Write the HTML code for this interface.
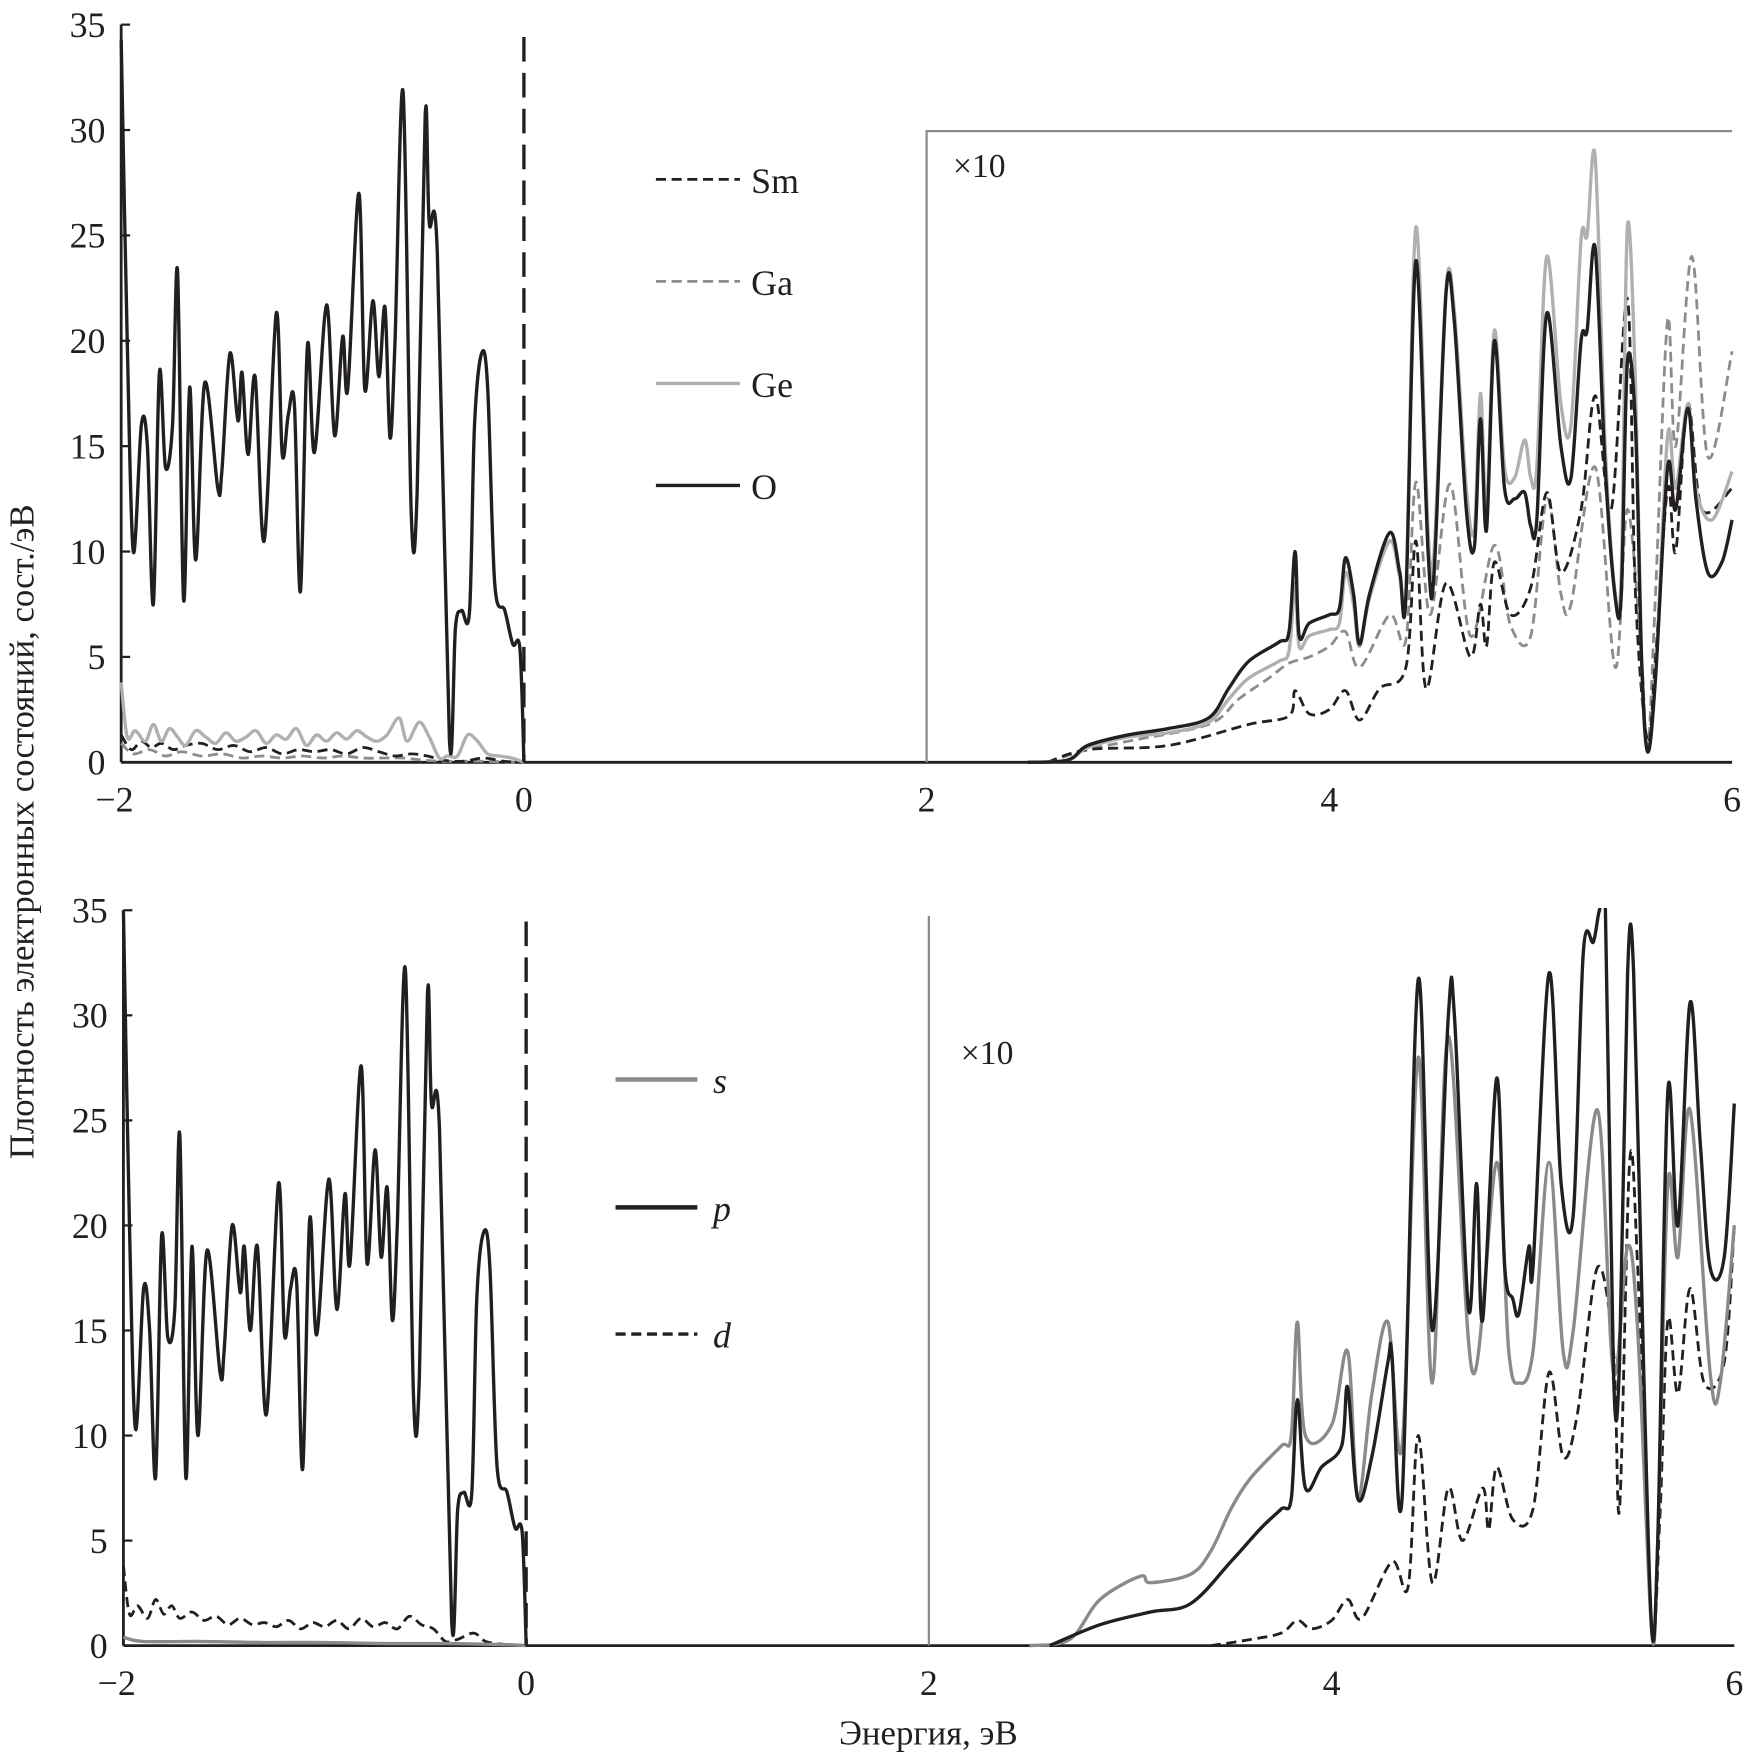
<!DOCTYPE html>
<html><head><meta charset="utf-8"><style>
html,body{margin:0;padding:0;background:#fff}
svg{display:block}
text{font-family:"Liberation Serif",serif;fill:#231f20}
</style></head><body>
<svg id="chart" width="1749" height="1760" viewBox="0 0 1560 1570" xmlns="http://www.w3.org/2000/svg">
<defs>
<clipPath id="clipTop"><rect x="100" y="20" width="1460" height="665"/></clipPath>
<clipPath id="clipBot"><rect x="100" y="810" width="1460" height="663"/></clipPath>
</defs>
<g id="top"></g>
<g id="bot"></g>
<text x="0" y="0" font-size="31" text-anchor="middle" transform="translate(30,742) rotate(-90)">Плотность электронных состояний, сост./эВ</text>
<text x="828" y="1556" font-size="31" text-anchor="middle">Энергия, эВ</text>
</svg>
<script>
// ---- data: top panel ----
const xTicks=[-2,0,2,4,6];
const yTicks=[0,5,10,15,20,25,30,35];
const oLeftE=[-2,-1.97,-1.94,-1.9,-1.87,-1.84,-1.81,-1.78,-1.745,-1.72,-1.69,-1.66,-1.63,-1.585,-1.52,-1.5,-1.46,-1.42,-1.4,-1.37,-1.335,-1.29,-1.23,-1.2,-1.17,-1.14,-1.11,-1.075,-1.04,-0.98,-0.94,-0.9,-0.875,-0.82,-0.79,-0.75,-0.72,-0.69,-0.665,-0.64,-0.6,-0.56,-0.53,-0.49,-0.47,-0.43,-0.37,-0.34,-0.31,-0.27,-0.245,-0.21,-0.18,-0.145,-0.095,-0.055,-0.02,0];
const oLeftV=[34.3,20,10,16,15,7.5,18.5,14,16,23.3,7.7,17.8,9.6,18,13,13.8,19.4,16.2,18.5,14.6,18.3,10.5,21.3,14.6,16.5,17,8.1,19.8,14.7,21.7,15.5,20.2,17.7,27,17.7,21.9,18.3,21.6,15.4,20,31.8,11.9,12.8,30.7,25.6,24.2,1.1,6.4,7.2,7.2,16,19.4,17.8,8.5,7.2,5.6,5.4,0];
const geLeftE=[-2,-1.97,-1.93,-1.88,-1.84,-1.8,-1.76,-1.72,-1.68,-1.63,-1.58,-1.53,-1.48,-1.43,-1.38,-1.33,-1.28,-1.23,-1.18,-1.13,-1.08,-1.03,-0.98,-0.93,-0.88,-0.83,-0.78,-0.73,-0.68,-0.62,-0.58,-0.52,-0.47,-0.42,-0.38,-0.33,-0.28,-0.23,-0.18,-0.12,-0.06,0];
const geLeftV=[3.8,1.2,1.5,1.0,1.8,1.0,1.6,1.2,0.8,1.5,1.2,0.9,1.4,1.0,1.2,1.5,0.9,1.3,1.1,1.6,0.8,1.3,1.0,1.4,1.1,1.5,1.2,1.0,1.3,2.1,1.0,1.9,1.2,0.2,0.3,0.3,1.3,1.0,0.4,0.3,0.2,0];
const smLeftE=[-2,-1.95,-1.9,-1.85,-1.8,-1.74,-1.68,-1.6,-1.52,-1.44,-1.36,-1.28,-1.2,-1.12,-1.04,-0.96,-0.88,-0.8,-0.72,-0.64,-0.56,-0.48,-0.4,-0.3,-0.2,-0.1,0];
const smLeftV=[1.3,0.6,1.0,0.7,0.9,0.6,0.8,0.9,0.6,0.8,0.5,0.7,0.4,0.6,0.5,0.6,0.4,0.7,0.5,0.3,0.4,0.3,0.1,0.05,0.2,0.05,0];
const gaLeftE=[-2,-1.94,-1.86,-1.78,-1.7,-1.6,-1.5,-1.4,-1.3,-1.2,-1.1,-1.0,-0.9,-0.8,-0.7,-0.6,-0.5,-0.4,-0.3,-0.2,-0.1,0];
const gaLeftV=[0.9,0.4,0.6,0.3,0.5,0.3,0.4,0.2,0.3,0.2,0.3,0.2,0.3,0.2,0.2,0.2,0.1,0.05,0.05,0.05,0.02,0];
const oRightE=[2.5,2.7,2.8,3.0,3.2,3.4,3.5,3.6,3.75,3.8,3.83,3.85,3.9,4.0,4.05,4.08,4.12,4.15,4.2,4.3,4.35,4.38,4.43,4.49,4.52,4.58,4.62,4.68,4.72,4.75,4.78,4.82,4.87,4.92,4.97,5.0,5.03,5.08,5.15,5.2,5.25,5.28,5.32,5.37,5.42,5.45,5.48,5.52,5.55,5.58,5.62,5.68,5.72,5.78,5.82,5.88,5.95,6.0];
const oRightV=[0,0.1,0.8,1.3,1.6,2.1,3.5,4.8,5.7,6.2,10,6,6.6,7,7.3,9.7,8,5.6,8,10.9,9,7.8,23.8,10,9,22.3,21,12,10.2,16.3,11,20,13,12.5,12.8,11.2,11.5,21.3,15,13.5,20,20.5,24.4,14,7.8,8,19,16,5,0.5,4,14,12,16.8,12.5,9,9.5,11.5];
const geRightE=[2.5,2.7,2.8,3.0,3.2,3.4,3.5,3.6,3.75,3.8,3.83,3.85,3.9,4.0,4.05,4.08,4.12,4.15,4.2,4.3,4.35,4.38,4.43,4.49,4.52,4.58,4.62,4.68,4.72,4.75,4.78,4.82,4.87,4.92,4.97,5.0,5.03,5.08,5.15,5.2,5.25,5.28,5.32,5.37,5.42,5.45,5.48,5.52,5.55,5.58,5.62,5.68,5.72,5.78,5.82,5.9,6.0];
const geRightV=[0,0.1,0.7,1.2,1.4,1.9,3.0,4.0,4.8,5.3,8.5,5.5,6.0,6.3,6.6,9.0,7.5,5.5,7.8,10.5,8.8,8.0,25.4,11,10,22.5,21.5,13,11,17.5,12,20.5,14,13.5,15.3,13.5,14,24,17,16,24.8,25,28.7,15,8,9,25.4,18,5,0.5,4,15.5,13,17,13,11.5,13.8];
const gaRightE=[2.6,2.8,3.0,3.4,3.55,3.7,3.8,3.9,4.0,4.08,4.15,4.3,4.38,4.43,4.5,4.6,4.7,4.82,4.9,5.0,5.08,5.15,5.2,5.32,5.42,5.48,5.55,5.58,5.62,5.68,5.72,5.8,5.88,6.0];
const gaRightV=[0,0.6,1.0,1.8,3.0,4.0,4.7,5.0,5.5,6.2,4.5,7,5.8,13.3,7,13.2,6,10.3,6.5,6,12.5,8,7.5,14,4.5,12,5,0.5,8,21,15,24,14.5,19.5];
const smRightE=[2.6,2.8,3.2,3.6,3.8,3.83,3.9,4.0,4.08,4.15,4.25,4.38,4.43,4.48,4.58,4.7,4.75,4.78,4.82,4.9,5.0,5.08,5.15,5.25,5.32,5.4,5.48,5.52,5.58,5.62,5.68,5.72,5.78,5.85,6.0];
const smRightV=[0,0.6,0.8,1.8,2.2,3.4,2.3,2.5,3.4,2.0,3.5,4.5,10.5,3.5,8.5,5,7.5,5.5,9.5,7,8.3,12.8,9,12,17.4,12,22,8,1,5,13,10,17,12,13];
// ---- data: bottom panel ----
const pLeftE=oLeftE.slice();
const pLeftV=[35,20,10.3,17,15,8,19.5,14.7,16,24.3,8,19,10,18.8,13,14,20,16.8,19,15,19,11,22,14.8,17,17.3,8.4,20.3,14.8,22.2,16,21.5,18.2,27.6,18.2,23.6,18.5,21.8,15.5,20,32.2,12,12.8,31,25.8,24.5,1.2,6.5,7.3,7.3,16.5,19.7,18,8.6,7.3,5.6,5.4,0];
const sLeftE=[-2,-1.9,-1.6,-1.3,-1.0,-0.7,-0.4,-0.1,0];
const sLeftV=[0.4,0.2,0.2,0.15,0.15,0.1,0.1,0.05,0];
const dLeftE=[-2,-1.97,-1.93,-1.88,-1.84,-1.8,-1.76,-1.72,-1.66,-1.6,-1.54,-1.48,-1.42,-1.36,-1.3,-1.24,-1.18,-1.12,-1.06,-1.0,-0.94,-0.88,-0.82,-0.76,-0.7,-0.64,-0.58,-0.52,-0.46,-0.4,-0.34,-0.26,-0.2,-0.1,0];
const dLeftV=[3.8,1.5,1.9,1.3,2.2,1.5,1.9,1.3,1.6,1.2,1.4,1.0,1.3,1.0,1.1,0.9,1.2,0.8,1.1,0.9,1.2,0.8,1.3,0.9,1.1,0.8,1.4,1.0,0.8,0.2,0.3,0.6,0.2,0.05,0];
const pRightE=[2.6,2.85,3.1,3.3,3.5,3.65,3.75,3.8,3.83,3.87,3.95,4.05,4.08,4.13,4.2,4.28,4.3,4.35,4.43,4.5,4.58,4.61,4.68,4.72,4.75,4.82,4.86,4.9,4.93,4.98,5.0,5.08,5.14,5.2,5.25,5.3,5.33,5.36,5.4,5.43,5.47,5.5,5.55,5.59,5.62,5.67,5.72,5.78,5.83,5.88,5.95,6.0];
const pRightV=[0,1,1.6,2,4,5.6,6.5,7,11.7,7.5,8.5,9.5,12.3,7,9,13.5,13.8,7,31.7,15,30,30,16,22,15.5,27,18,16.5,15.8,19,18,32,22,20.5,33,33.5,35,35,13,13.5,32,32,13,0.7,5,26.4,20,30.6,24,18,18.5,25.8];
const sRightE=[2.5,2.7,2.85,3.05,3.1,3.3,3.4,3.5,3.6,3.75,3.8,3.83,3.87,4.0,4.08,4.13,4.2,4.28,4.35,4.43,4.5,4.58,4.7,4.82,4.88,4.93,5.0,5.08,5.15,5.2,5.32,5.4,5.47,5.52,5.59,5.62,5.67,5.72,5.78,5.88,5.93,6.0];
const sRightV=[0,0.3,2.2,3.3,3,3.4,4.5,6.5,8,9.5,10,15.4,10,10.5,14,7,12,15.4,9.5,28,12.5,29,13,23,14,12.5,14,23,14,15,25.5,13,19,15,0.6,5,22,18.5,25.5,13,12.5,20];
const dRightE=[3.4,3.6,3.75,3.83,3.9,4.0,4.08,4.15,4.3,4.38,4.43,4.5,4.58,4.65,4.75,4.78,4.82,4.9,5.0,5.08,5.15,5.22,5.32,5.4,5.43,5.48,5.52,5.59,5.63,5.67,5.72,5.78,5.85,5.95,6.0];
const dRightV=[0,0.3,0.6,1.2,0.8,1.2,2.2,1.3,4,2.8,10,3,7.5,5,7.5,5.5,8.5,6,6.5,13,9,11,18,14,6.5,23,18,1,6,15.5,12,17,12.5,13.5,20];

const NS='http://www.w3.org/2000/svg';
function mk(parent,tag,attrs){const e=document.createElementNS(NS,tag);for(const k in attrs)e.setAttribute(k,attrs[k]);parent.appendChild(e);return e;}
function smoothPath(pts){
  let d='M'+pts[0][0].toFixed(1)+','+pts[0][1].toFixed(1);
  for(let i=0;i<pts.length-1;i++){
    const p0=pts[Math.max(0,i-1)],p1=pts[i],p2=pts[i+1],p3=pts[Math.min(pts.length-1,i+2)];
    const c1=[p1[0]+(p2[0]-p0[0])/6,p1[1]+(p2[1]-p0[1])/6];
    const c2=[p2[0]-(p3[0]-p1[0])/6,p2[1]-(p3[1]-p1[1])/6];
    d+='C'+c1[0].toFixed(1)+','+c1[1].toFixed(1)+' '+c2[0].toFixed(1)+','+c2[1].toFixed(1)+' '+p2[0].toFixed(1)+','+p2[1].toFixed(1);
  }
  return d;
}
function panel(g,cfg){
  const sx=e=>cfg.x0+(e+2)*(cfg.x1-cfg.x0)/8;
  const sy=v=>cfg.y0-v*(cfg.y0-cfg.y35)/35;
  let a=mk(g,'line',{x1:sx(-2),y1:sy(35),x2:sx(-2),y2:sy(0),stroke:'#231f20','stroke-width':2.5});
  
  
  a=mk(g,'line',{x1:sx(-2),y1:sy(0),x2:sx(6),y2:sy(0),stroke:'#231f20','stroke-width':2.5});
  
  
  yTicks.forEach(t=>{
    const l=mk(g,'line',{x1:sx(-2),y1:sy(t),x2:sx(-2)+8,y2:sy(t),stroke:'#231f20','stroke-width':2});
    
    
    const tx=mk(g,'text',{x:sx(-2)-14,y:sy(t)+11,'font-size':32,'text-anchor':'end'});
    tx.textContent=t;
    
    
  });
  xTicks.forEach(t=>{
    const tx=mk(g,'text',{x:sx(t)-(t<0?6:0),y:sy(0)+44,'font-size':32,'text-anchor':'middle'});
    tx.textContent=t<0?'\u2212'+Math.abs(t):t;
    
    
  });
  a=mk(g,'line',{x1:sx(0),y1:cfg.fermiTop,x2:sx(0),y2:sy(0),stroke:'#231f20','stroke-width':3,'stroke-dasharray':'22,10'});
  
  
  a=mk(g,'path',{d:cfg.frameTop?('M'+sx(2)+','+sy(0)+'V'+cfg.frameTop+'H'+sx(6)):('M'+sx(2)+','+sy(0)+'V'+cfg.frameV),fill:'none',stroke:'#8a8a8a','stroke-width':2});
  
  
  const t10=mk(g,'text',{x:cfg.x10[0],y:cfg.x10[1],'font-size':30});
  t10.textContent='\u00d710';
  
  
  const cg=mk(g,'g',{'clip-path':'url(#'+cfg.clip+')'});
  
  
  cfg.series.forEach(s=>{
    [[s.le,s.lv],[s.re,s.rv]].forEach(([E,V],k)=>{
      if(!E)return;
      const pts=E.map((e,i)=>[sx(e),sy(V[i])]);
      const p=mk(cg,'path',{d:smoothPath(pts),fill:'none',stroke:s.color,'stroke-width':s.w,'stroke-linejoin':'round'});
      if(s.dash)p.setAttribute('stroke-dasharray',s.dash);
      
      
    });
    const ly=s.ly;
    const l=mk(g,'line',{x1:cfg.legX[0],y1:ly,x2:cfg.legX[1],y2:ly,stroke:s.color,'stroke-width':s.lw||s.w});
    if(s.dash)l.setAttribute('stroke-dasharray',s.dash);
    
    
    const t=mk(g,'text',{x:cfg.legX[2],y:ly+12,'font-size':32});
    if(s.italic)t.setAttribute('font-style','italic');
    t.textContent=s.label;
    
    
  });
}
panel(document.getElementById('top'),{clip:'clipTop',x0:108,x1:1545,y0:680,y35:22,fermiTop:33,frameTop:117,x10:[850,158],legX:[585,660,670],
 series:[
  {name:'ga',label:'Ga',color:'#8c8c8c',w:2.5,dash:'9,5',le:gaLeftE,lv:gaLeftV,re:gaRightE,rv:gaRightV,ly:251},
  {name:'sm',label:'Sm',color:'#231f20',w:2.5,dash:'9,5',le:smLeftE,lv:smLeftV,re:smRightE,rv:smRightV,ly:160},
  {name:'ge',label:'Ge',color:'#b0b0b0',w:3,le:geLeftE,lv:geLeftV,re:geRightE,rv:geRightV,ly:342},
  {name:'o',label:'O',color:'#231f20',w:3,le:oLeftE,lv:oLeftV,re:oRightE,rv:oRightV,ly:433}
 ]});
panel(document.getElementById('bot'),{clip:'clipBot',x0:110,x1:1547,y0:1468,y35:812,fermiTop:822,frameTop:0,frameV:817,x10:[857,949],legX:[549,622,636],
 series:[
  {name:'d',label:'d',italic:true,color:'#231f20',w:2.5,lw:3,dash:'9,5',le:dLeftE,lv:dLeftV,re:dRightE,rv:dRightV,ly:1190},
  {name:'s',label:'s',italic:true,color:'#8a8a8a',w:3,lw:4,le:sLeftE,lv:sLeftV,re:sRightE,rv:sRightV,ly:963},
  {name:'p',label:'p',italic:true,color:'#231f20',w:3,lw:4,le:pLeftE,lv:pLeftV,re:pRightE,rv:pRightV,ly:1077}
 ]});
</script>
</body></html>
